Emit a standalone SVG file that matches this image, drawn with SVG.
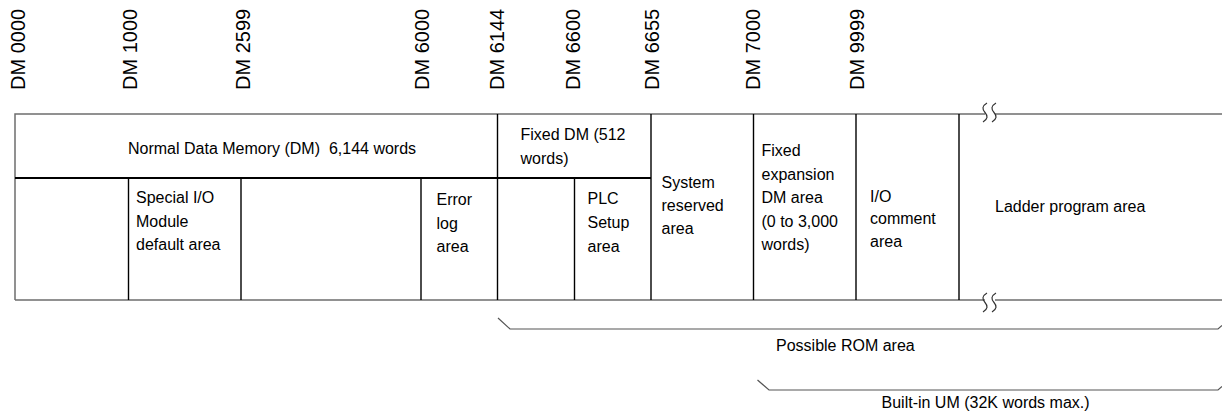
<svg xmlns="http://www.w3.org/2000/svg" width="1222" height="418" viewBox="0 0 1222 418">
<style>
text{font-family:"Liberation Sans",Arial,sans-serif;font-size:16px;fill:#000}
.addr{font-size:20px}
.border{stroke:#6e6e6e;stroke-width:1.5;fill:none}
.div{stroke:#000;stroke-width:1.4;fill:none}
.mid{stroke:#000;stroke-width:2;fill:none}
.brk{stroke:#333;stroke-width:1.2;fill:none}
.brace{stroke:#555;stroke-width:1.2;fill:none}
</style>
<rect width="1222" height="418" fill="#fff"/>
<g id="addresses">
<text class="addr" transform="translate(25,90) rotate(-90)">DM 0000</text>
<text class="addr" transform="translate(136.5,90) rotate(-90)">DM 1000</text>
<text class="addr" transform="translate(250,90) rotate(-90)">DM 2599</text>
<text class="addr" transform="translate(428.5,90) rotate(-90)">DM 6000</text>
<text class="addr" transform="translate(503.5,90) rotate(-90)">DM 6144</text>
<text class="addr" transform="translate(580,90) rotate(-90)">DM 6600</text>
<text class="addr" transform="translate(658.5,90) rotate(-90)">DM 6655</text>
<text class="addr" transform="translate(760,90) rotate(-90)">DM 7000</text>
<text class="addr" transform="translate(863.5,90) rotate(-90)">DM 9999</text>
</g>
<g id="frame">
<path class="border" d="M15,300 V114 H985 M995,114 H1222 M15,300 H985 M995,300 H1222"/>
<path class="brk" d="M987,103 C982,106 982,109 985,112.5 C988,116 988,119 983,122 M996,103 C991,106 991,109 994,112.5 C997,116 997,119 992,122"/>
<path class="brk" d="M987,293 C982,296 982,299 985,302.5 C988,306 988,309 983,312 M996,293 C991,296 991,299 994,302.5 C997,306 997,309 992,312"/>
<path class="mid" d="M15,178 H651"/>
</g>
<g id="normal-dm">
<text x="128" y="154" xml:space="preserve">Normal Data Memory (DM)  6,144 words</text>
</g>
<g id="dm0000">
<path class="div" d="M128.5,178 V300"/>
</g>
<g id="special-io">
<path class="div" d="M241,178 V300"/>
<text x="136"><tspan x="136" y="203">Special I/O</tspan><tspan x="136" y="226.5">Module</tspan><tspan x="136" y="250">default area</tspan></text>
</g>
<g id="dm2599">
<path class="div" d="M421,178 V300"/>
</g>
<g id="error-log">
<path class="div" d="M497.5,114 V300"/>
<text x="436.5"><tspan x="436.5" y="205">Error</tspan><tspan x="436.5" y="229">log</tspan><tspan x="436.5" y="252">area</tspan></text>
</g>
<g id="fixed-dm">
<text x="520.5"><tspan x="520.5" y="140">Fixed DM (512</tspan><tspan x="520.5" y="163.5">words)</tspan></text>
</g>
<g id="dm6144">
<path class="div" d="M574.5,178 V300"/>
</g>
<g id="plc-setup">
<path class="div" d="M651,114 V300"/>
<text x="587.5"><tspan x="587.5" y="203.5">PLC</tspan><tspan x="587.5" y="228">Setup</tspan><tspan x="587.5" y="251.5">area</tspan></text>
</g>
<g id="system-reserved">
<path class="div" d="M753.5,114 V300"/>
<text x="661.5"><tspan x="661.5" y="187.5">System</tspan><tspan x="661.5" y="210.5">reserved</tspan><tspan x="661.5" y="233.5">area</tspan></text>
</g>
<g id="fixed-expansion">
<path class="div" d="M856,114 V300"/>
<text x="761.5"><tspan x="761.5" y="156">Fixed</tspan><tspan x="761.5" y="179.5">expansion</tspan><tspan x="761.5" y="202.5">DM area</tspan><tspan x="761.5" y="226.5">(0 to 3,000</tspan><tspan x="761.5" y="250">words)</tspan></text>
</g>
<g id="io-comment">
<path class="div" d="M959,114 V300"/>
<text x="870"><tspan x="870" y="201.5">I/O</tspan><tspan x="870" y="224">comment</tspan><tspan x="870" y="246.5">area</tspan></text>
</g>
<g id="ladder">
<text x="995" y="212">Ladder program area</text>
</g>
<g id="connectors">
<path class="brace" d="M498,318 L510,329 H1218 L1222,325.5"/>
<path class="brace" d="M757.5,380 L769,390 H1218 L1222,386.5"/>
</g>
<g id="rom-label">
<text x="776" y="351">Possible ROM area</text>
</g>
<g id="um-label">
<text x="881.5" y="408">Built-in UM (32K words max.)</text>
</g>
</svg>
